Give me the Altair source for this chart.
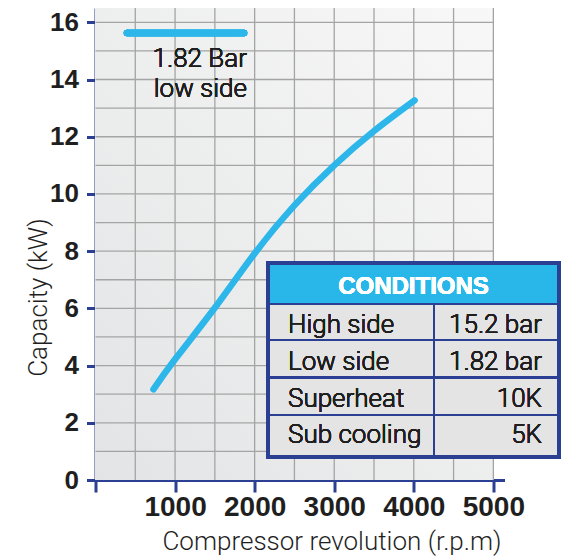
import altair as alt
import pandas as pd

# ---- data ----
rpm = [728, 1000, 1500, 2000, 2500, 3000, 3500, 4010]
capacity = [3.17, 4.22, 6.02, 7.92, 9.6, 11.0, 12.2, 13.27]

x_ticks = [0, 1000, 2000, 3000, 4000, 5000]
y_ticks = [0, 2, 4, 6, 8, 10, 12, 14, 16]
grid_x = [500, 1000, 1500, 2000, 2500, 3000, 3500, 4000, 4500, 5000]
grid_y = [1, 2, 3, 4, 5, 6, 7, 8, 9, 10, 11, 12, 13, 14, 15, 16]

legend_lines = ["1.82 Bar", "low side"]
table_title = "CONDITIONS"
table_labels = ["High side", "Low side", "Superheat", "Sub cooling"]
table_values = ["15.2 bar", "1.82 bar", "10K", "5K"]

x_title = "Compressor revolution (r.p.m)"
y_title = "Capacity (kW)"

# ---- style / layout ----
FONT = "Roboto"
BFONT = "Liberation Sans"
TW = 300
BLUE = "#2b3f93"
CYAN = "#2cb6e9"
TXT = "#1f1f1f"
X_MAX_GRID = 5000
Y_MAX = 16.5
X_DOMAIN = [0, 5140]
W, H = 409, 472

df = pd.DataFrame({"rpm": rpm, "cap": capacity})
gx = pd.DataFrame({"v": grid_x})
gy = pd.DataFrame({"v": grid_y})

xscale = alt.Scale(domain=X_DOMAIN, nice=False, zero=False)
yscale = alt.Scale(domain=[0, Y_MAX], nice=False)

xaxis = alt.Axis(values=x_ticks, format="d",
                 labelExpr="datum.value == 0 ? '' : datum.label",
                 domainColor=BLUE, domainWidth=3, tickColor=BLUE, tickWidth=3,
                 tickSize=12, grid=False, labelFont=BFONT, labelFontSize=28,
                 labelFontWeight="bold", labelColor=TXT, labelPadding=1,
                 labelOverlap=False, labelBound=False, labelFlush=False,
                 title=x_title, titleFont=FONT, titleFontSize=26,
                 titleFontWeight=TW, titleColor=TXT,
                 titleX=236, titleY=69, titleAnchor="middle",
                 titleAlign="center", titleBaseline="alphabetic")
yaxis = alt.Axis(values=y_ticks, domainColor=BLUE, domainWidth=3,
                 tickColor=BLUE, tickWidth=3, tickSize=9, grid=False,
                 labelFont=BFONT, labelFontSize=26, labelFontWeight="bold",
                 labelColor=TXT, labelPadding=8, labelOverlap=False,
                 labelBound=False, labelFlush=False,
                 title=y_title, titleFont=FONT, titleFontSize=26,
                 titleFontWeight=TW, titleColor=TXT,
                 titleX=-57, titleY=289, titleAngle=270,
                 titleAlign="center", titleBaseline="middle")

bg = alt.Chart(df).mark_rect(
    color=alt.LinearGradient(
        gradient="linear",
        stops=[alt.GradientStop(color="#e3e4e5", offset=0),
               alt.GradientStop(color="#f8f8f8", offset=1)],
        x1=0, y1=1, x2=1, y2=0)
).encode(
    x=alt.datum(0, scale=xscale, axis=xaxis, type="quantitative"),
    x2=alt.datum(X_MAX_GRID),
    y=alt.datum(0, scale=yscale, axis=yaxis, type="quantitative"),
    y2=alt.datum(Y_MAX),
)

vgrid = alt.Chart(gx).mark_rule(color="#a4a4a4", strokeWidth=1.3).encode(
    x=alt.X("v:Q"), y=alt.datum(0), y2=alt.datum(Y_MAX))
hgrid = alt.Chart(gy).mark_rule(color="#a4a4a4", strokeWidth=1.3).encode(
    y=alt.Y("v:Q"), x=alt.datum(0), x2=alt.datum(X_MAX_GRID))

curve = alt.Chart(df).mark_line(
    color=CYAN, strokeWidth=6.5, strokeCap="round", interpolate="natural"
).encode(x=alt.X("rpm:Q"), y=alt.Y("cap:Q"))

layers = [bg, vgrid, hgrid, curve]

# legend
layers.append(alt.Chart(df).mark_rule(color=CYAN, strokeWidth=6.5, strokeCap="round").encode(
    x=alt.value(31.5), x2=alt.value(148.5), y=alt.value(25)))
for i, t in enumerate(legend_lines):
    layers.append(alt.Chart(df).mark_text(
        text=t, font=FONT, fontSize=26, fontWeight=TW, color=TXT, align="right",
        baseline="alphabetic").encode(x=alt.value(151.5), y=alt.value(59 + 30 * i)))

# conditions table
TL, TR, TT, TB = 172.5, 463.5, 255, 449
HB = 296
row_lines = [332, 369.5, 407]
COLX = 338.5
row_base = [325, 361.5, 398.5, 435]

layers.append(alt.Chart(df).mark_rect(color="#e4e4e4").encode(
    x=alt.value(TL), x2=alt.value(TR), y=alt.value(HB), y2=alt.value(TB)))
layers.append(alt.Chart(df).mark_rect(color="#29b6e9").encode(
    x=alt.value(TL), x2=alt.value(TR), y=alt.value(TT), y2=alt.value(HB)))
for yy in [HB] + row_lines:
    layers.append(alt.Chart(df).mark_rule(color=BLUE, strokeWidth=2).encode(
        x=alt.value(TL), x2=alt.value(TR), y=alt.value(yy)))
layers.append(alt.Chart(df).mark_rule(color=BLUE, strokeWidth=2).encode(
    x=alt.value(COLX), y=alt.value(HB), y2=alt.value(TB)))
layers.append(alt.Chart(df).mark_rect(fill=None, stroke=BLUE, strokeWidth=3.5, fillOpacity=0).encode(
    x=alt.value(TL), x2=alt.value(TR), y=alt.value(TT), y2=alt.value(TB)))
layers.append(alt.Chart(df).mark_text(
    text=table_title, font=BFONT, fontSize=24, fontWeight="bold", color="white",
    align="center", baseline="alphabetic").encode(
    x=alt.value((TL + TR) / 2), y=alt.value(286)))
for lab, val, yb in zip(table_labels, table_values, row_base):
    layers.append(alt.Chart(df).mark_text(
        text=lab, font=FONT, fontSize=26, fontWeight=TW, color=TXT, align="left",
        baseline="alphabetic").encode(x=alt.value(192.5), y=alt.value(yb)))
    layers.append(alt.Chart(df).mark_text(
        text=val, font=FONT, fontSize=26, fontWeight=TW, color=TXT, align="right",
        baseline="alphabetic").encode(x=alt.value(446.5), y=alt.value(yb)))

chart = alt.layer(*layers).properties(
    width=W, height=H, autosize="none",
    padding={"left": 87.5, "top": 0, "right": 72.5, "bottom": 76},
    background="white",
).configure_view(strokeWidth=0)

chart.save("out.html", embed_options={"renderer": "svg", "actions": False})
